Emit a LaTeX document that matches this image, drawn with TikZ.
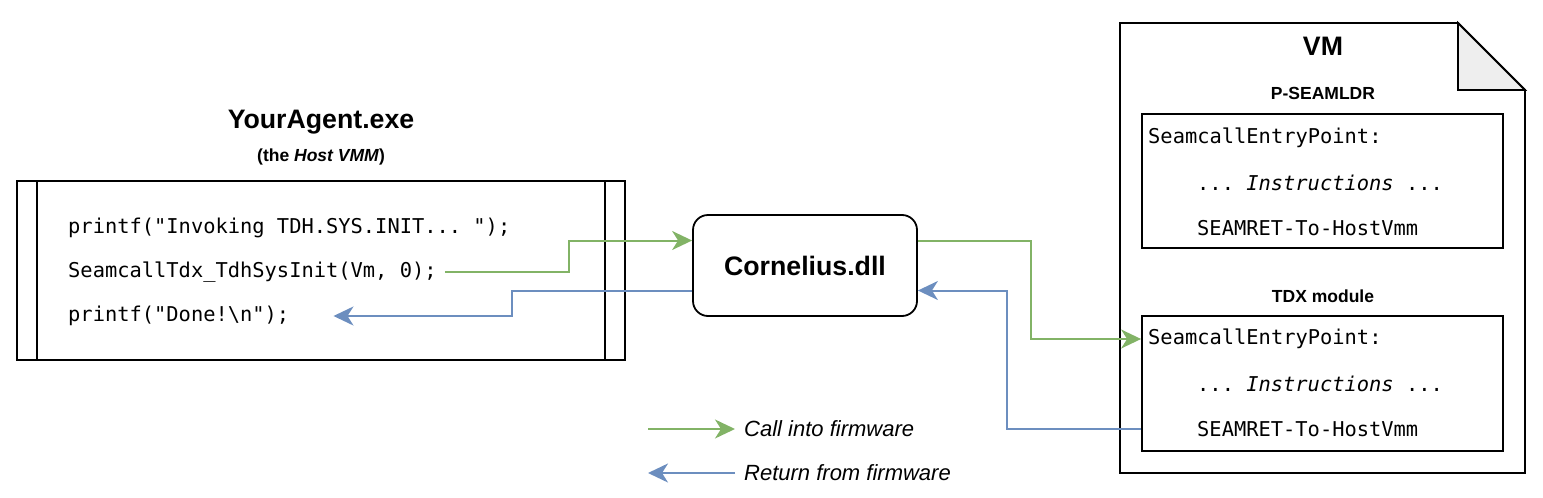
\documentclass[tikz,border=0pt]{standalone}
\usepackage{fontspec}
\setmainfont{Liberation Sans}
\setmonofont{DejaVu Sans Mono}
\usepackage{xcolor}
\definecolor{callGreen}{HTML}{82B366}
\definecolor{retBlue}{HTML}{6C8EBF}
\definecolor{foldGray}{HTML}{EEEEEE}
\usepackage{tikz}
\usetikzlibrary{arrows.meta}

\tikzset{
  codeline/.style={anchor=west, inner sep=0pt, font=\ttfamily\fontsize{20.4}{24}\selectfont},
  bigtitle/.style={font=\bfseries\fontsize{26.7}{32}\selectfont},
  subtitle/.style={font=\bfseries\fontsize{17.5}{21}\selectfont},
  legendtext/.style={anchor=west, inner sep=0pt, font=\itshape\fontsize{22}{26}\selectfont},
  flowtip/.style={-{Stealth[length=20pt,width=19pt,inset=6pt]}},
  callarrow/.style={callGreen, line width=2pt, flowtip},
  retarrow/.style={retBlue, line width=2pt, flowtip},
  boxline/.style={draw, line width=1.8pt}
}

\begin{document}
\begin{tikzpicture}[x=1pt, y=-1pt]
  \useasboundingbox (0,0) rectangle (1543,498);
  % ------- host side -------
  \node[bigtitle] (agenttitle) at (321,122) {YourAgent.exe};
  \node[subtitle] (agentsub) at (321,157) {(the \textit{Host VMM})};
  \node[boxline, minimum width=608pt, minimum height=179pt] (agent) at (321,270.5) {};
  \draw[line width=1.8pt] ([xshift=21pt]agent.north west) -- ([xshift=21pt]agent.south west);
  \draw[line width=1.8pt] ([xshift=-21pt]agent.north east) -- ([xshift=-21pt]agent.south east);
  \node[codeline] (line1) at (68,228) {printf("Invoking TDH.SYS.INIT...\ ");};
  \node[codeline] (line2) at (68,272) {SeamcallTdx\_TdhSysInit(Vm, 0);};
  \node[codeline] (line3) at (68,316) {printf("Done!\textbackslash n");};
  % ------- the dll -------
  \node[boxline, rounded corners=15pt, minimum width=224pt, minimum height=101pt, bigtitle] (dll) at (805,265.5) {Cornelius.dll};
  % ------- firmware side -------
  \draw[line width=1.8pt] (1120,23) -- (1458,23) -- (1525,90) -- (1525,473) -- (1120,473) -- cycle;
  \draw[line width=1.8pt, fill=foldGray] (1458,23) -- (1458,90) -- (1525,90) -- cycle;
  \node[bigtitle] (vmtitle) at (1323,46) {VM};
  \node[subtitle] (ldrtitle) at (1323,93) {P-SEAMLDR};
  \node[boxline, minimum width=361pt, minimum height=134pt] (ldr) at (1322.5,181) {};
  \node[codeline] (ldr1) at (1148,138) {SeamcallEntryPoint:};
  \node[codeline] (ldr2) at (1197,183) {...\ \textit{Instructions} ...};
  \node[codeline] (ldr3) at (1197,228) {SEAMRET-To-HostVmm};
  \node[subtitle] (tdxtitle) at (1323,296) {TDX module};
  \node[boxline, minimum width=361pt, minimum height=135pt] (tdx) at (1322.5,383.5) {};
  \node[codeline] (tdx1) at (1148,339) {SeamcallEntryPoint:};
  \node[codeline] (tdx2) at (1197,384) {...\ \textit{Instructions} ...};
  \node[codeline] (tdx3) at (1197,429) {SEAMRET-To-HostVmm};
  % ------- calls and returns -------
  \draw[callarrow] ([xshift=8pt]line2.east) -- ++(124,0) |- ([yshift=25pt]dll.west);
  \draw[retarrow] ([yshift=-25pt]dll.west) -- ++(-180,0) |- ([xshift=44pt]line3.east);
  \draw[callarrow] ([yshift=25pt]dll.east) -- ++(113,0) |- (tdx.west |- tdx1.west);
  \draw[retarrow] (tdx.west |- tdx3.west) -- ++(-134,0) |- ([yshift=-25pt]dll.east);
  % ------- legend -------
  \coordinate (callstart) at (648,429);
  \coordinate (retend) at (648,473);
  \node[legendtext] (calltext) at (744,429) {Call into firmware};
  \node[legendtext] (rettext) at (744,473) {Return from firmware};
  \draw[callarrow] (callstart) -- ([xshift=-9pt]calltext.west);
  \draw[retarrow] ([xshift=-9pt]rettext.west) -- (retend);
\end{tikzpicture}
\end{document}
